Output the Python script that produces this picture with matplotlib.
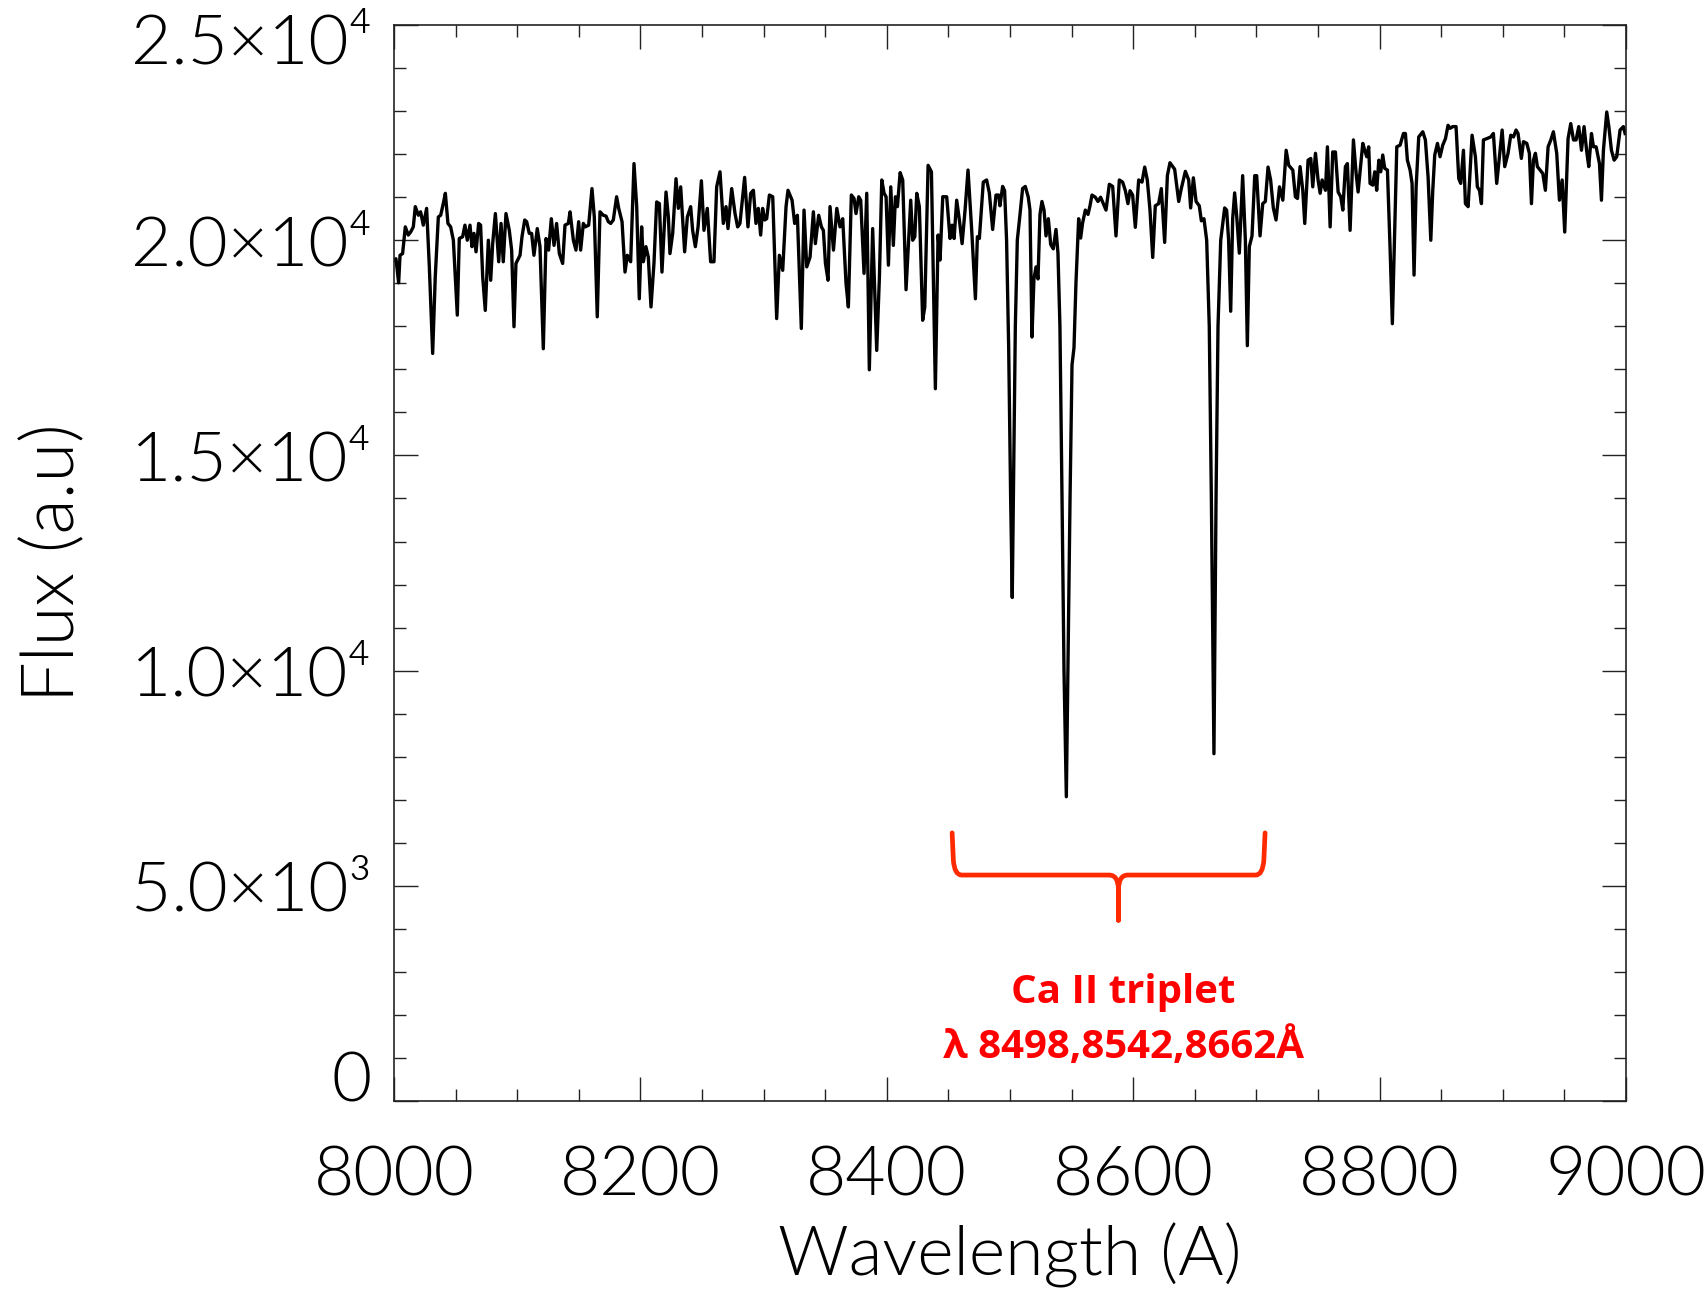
import matplotlib
matplotlib.use("Agg")
import matplotlib.pyplot as plt
from matplotlib.path import Path
from matplotlib.patches import PathPatch
from matplotlib.transforms import ScaledTranslation

plt.rcParams['font.family'] = ['Lato', 'DejaVu Sans']

# spectrum (wavelength in A, flux in a.u.)
wave = [
    8000.0, 8001.6, 8003.8, 8004.9, 8007.0, 8009.2, 8011.6, 8013.5, 8015.7, 8017.3,
    8019.8, 8021.6, 8023.8, 8026.5, 8028.7, 8031.4, 8033.5, 8036.0, 8037.9, 8040.0,
    8041.7, 8043.8, 8046.0, 8048.2, 8051.4, 8053.0, 8055.7, 8057.6, 8059.5, 8061.7,
    8063.3, 8064.9, 8066.6, 8068.7, 8070.3, 8072.0, 8074.1, 8076.6, 8078.5, 8080.1,
    8082.3, 8085.0, 8086.9, 8088.7, 8090.9, 8093.6, 8095.5, 8097.4, 8099.0, 8102.3,
    8103.9, 8106.1, 8107.7, 8109.8, 8111.7, 8113.6, 8116.3, 8118.5, 8121.2, 8123.4,
    8125.5, 8127.7, 8129.9, 8132.0, 8134.2, 8136.9, 8138.8, 8141.5, 8142.9, 8145.6,
    8147.7, 8149.9, 8151.5, 8153.7, 8155.3, 8158.0, 8160.7, 8162.6, 8165.0, 8167.2,
    8169.9, 8172.1, 8174.0, 8175.9, 8178.0, 8180.7, 8182.4, 8185.1, 8187.5, 8189.4,
    8192.1, 8194.8, 8197.0, 8199.1,
    8201.0, 8202.4, 8204.5, 8206.4, 8208.6, 8211.0, 8213.2, 8215.4, 8217.5, 8220.8,
    8222.7, 8224.0, 8226.2, 8228.9, 8230.8, 8232.7, 8235.9, 8238.1, 8240.8, 8242.4,
    8244.6, 8246.8, 8249.5, 8251.6, 8254.3, 8257.0, 8259.7, 8261.9, 8264.6, 8267.3,
    8269.5, 8271.1, 8274.1, 8276.8, 8278.9, 8280.8, 8284.6, 8287.3, 8289.5, 8291.7,
    8293.8, 8295.7, 8297.6, 8299.2, 8300.9, 8302.5, 8304.7, 8307.4, 8310.6, 8312.8,
    8315.5, 8318.2, 8319.8, 8323.1, 8325.2, 8327.4, 8330.6, 8332.8, 8335.0, 8337.7,
    8340.4, 8342.0, 8344.7, 8346.9, 8348.5, 8350.2, 8352.3, 8353.9, 8356.7, 8359.4,
    8362.0, 8364.2, 8366.9, 8368.8, 8371.2, 8373.4, 8375.0, 8377.2, 8378.8, 8381.5,
    8383.7, 8385.8, 8388.5, 8391.8, 8394.0,
    8395.9, 8397.8, 8399.4, 8401.3, 8403.2, 8405.3, 8407.0, 8408.6, 8410.8, 8412.9,
    8415.6, 8419.4, 8421.0, 8422.7, 8424.3, 8426.4, 8429.1, 8430.8, 8433.5, 8436.2,
    8439.4, 8441.6, 8443.2, 8445.4, 8448.6, 8451.3, 8453.0, 8454.6, 8456.7, 8458.9,
    8461.1, 8463.5, 8465.9, 8468.9, 8471.9, 8473.5, 8475.1,
    8478.3, 8481.0, 8483.2, 8485.9, 8488.6, 8490.8, 8491.8, 8494.0, 8495.6, 8497.2,
    8498.9, 8500.5, 8501.8, 8502.7, 8504.3, 8505.9, 8508.1, 8510.2, 8512.4, 8514.8,
    8516.2, 8517.8, 8519.4, 8521.1, 8522.7, 8524.3, 8525.9, 8527.6, 8529.2, 8531.1,
    8533.0, 8535.1, 8537.3, 8538.9, 8540.5, 8542.2, 8543.8, 8545.7, 8547.0, 8548.7,
    8550.3, 8551.9, 8553.5, 8555.7, 8557.3, 8558.9, 8561.1, 8563.3, 8564.9, 8566.5,
    8569.2, 8571.4, 8573.5, 8575.7, 8577.9, 8580.6, 8583.3, 8586.0, 8588.7, 8591.4,
    8593.6, 8595.7, 8597.4, 8599.5, 8601.7, 8604.4, 8607.1, 8609.3, 8611.4, 8613.6,
    8615.8, 8617.9, 8620.6, 8622.8, 8625.5, 8627.7, 8629.8, 8633.6, 8636.9, 8639.0,
    8642.3, 8645.0, 8646.6, 8648.8, 8651.0, 8653.6, 8655.3, 8657.4, 8659.6, 8661.7,
    8663.4, 8665.5, 8667.2, 8668.8, 8671.0, 8674.2, 8675.8, 8677.4, 8679.1, 8680.7,
    8682.3, 8684.0, 8686.1, 8688.8, 8691.0, 8692.6, 8694.2, 8696.4, 8698.6, 8700.2,
    8702.9, 8705.1, 8707.2, 8709.4, 8711.5, 8713.7,
    8715.9, 8718.7, 8721.4, 8724.1, 8726.2, 8729.5, 8731.6, 8733.3, 8735.4, 8737.6,
    8739.2, 8741.9, 8744.1, 8745.7, 8747.9, 8750.0, 8751.7, 8753.3, 8756.0, 8757.6,
    8759.8, 8761.9, 8764.1, 8766.3, 8768.4, 8770.1, 8772.2, 8773.8, 8776.0, 8778.7,
    8780.9, 8782.5,
    8786.3, 8787.9, 8789.5, 8791.1, 8792.2, 8794.4, 8796.0, 8797.6, 8799.3, 8800.9,
    8802.5, 8804.1, 8806.3, 8808.5, 8810.3, 8812.2, 8813.9, 8816.6, 8819.3, 8820.9,
    8822.5, 8824.7, 8826.3, 8827.9, 8829.6, 8831.7, 8835.0, 8837.1, 8839.3, 8841.5,
    8843.1, 8844.7, 8846.9, 8849.0, 8851.2, 8853.4, 8855.5, 8857.2, 8859.3, 8862.0,
    8864.2, 8865.8, 8868.0, 8869.6, 8871.8, 8875.0, 8877.7, 8879.3, 8881.0, 8882.6,
    8884.2, 8886.9, 8890.2, 8892.3, 8895.0, 8897.2, 8899.4, 8901.5, 8904.2, 8906.4,
    8908.6, 8910.7, 8912.3, 8915.0, 8916.7, 8919.4, 8921.5, 8923.2, 8924.8, 8926.4,
    8928.0, 8930.2, 8932.4, 8934.5, 8936.7, 8938.9, 8941.0, 8943.7, 8945.9, 8948.1,
    8950.2, 8952.9, 8955.1, 8957.3, 8959.4, 8961.6, 8963.8, 8965.9, 8968.1, 8969.7,
    8971.9, 8973.5, 8975.7, 8978.4, 8980.0, 8981.6, 8984.3, 8986.0, 8988.1, 8990.3,
    8992.4, 8995.1, 8997.8, 8999.2,
]
flux = [
    19540, 19570, 19010, 19650, 19690, 20310, 20120, 20190, 20310, 20780,
    20580, 20660, 20350, 20740, 19380, 17370, 19150, 20540, 20580, 20850,
    21090, 20390, 20310, 20000, 18260, 20040, 20080, 20350, 20000, 20350,
    19850, 20160, 19730, 20390, 20350, 19150, 18370, 20000, 19070, 19920,
    20620, 19500, 20390, 19500, 20620, 20230, 19770, 17990, 19460, 19650,
    20080, 20470, 20430, 20160, 20160, 19650, 20270, 19850, 17480, 20040,
    19770, 20500, 19880, 20390, 19690, 19460, 20350, 20390, 20660, 20000,
    19770, 20430, 19770, 20390, 20310, 20350, 21200, 20540, 18220, 20660,
    20580, 20560, 20430, 20390, 20470, 21010, 20740, 20430, 19260, 19650,
    19500, 21780, 20780, 18640,
    20310, 19500, 19850, 19610, 18450, 19460, 20890, 20850, 19260, 21120,
    20540, 19690, 20160, 21430, 20740, 21240, 19730, 20540, 20780, 20230,
    19850, 20310, 21380, 20230, 20740, 19500, 19500, 21240, 21590, 20390,
    20780, 20270, 21200, 20620, 20310, 20390, 21460, 20310, 21090, 21160,
    20390, 20740, 20120, 20740, 20470, 20500, 21050, 21010, 18180, 19650,
    19300, 20780, 21160, 20930, 20390, 20580, 17950, 20700, 19380, 19610,
    20660, 19920, 20580, 20310, 20230, 19460, 19070, 20780, 19770, 20740,
    20310, 20500, 18990, 18450, 21050, 20970, 20620, 21010, 20930, 19230,
    21090, 16990, 20270, 17440, 19150,
    21400, 21090, 21010, 19420, 21240, 19880, 21010, 20780, 21570, 21400,
    18850, 20930, 20000, 20080, 21090, 20780, 18140, 18450, 21740, 21590,
    16550, 20120, 19540, 21010, 21010, 20040, 20350, 20040, 20930, 20470,
    19920, 20700, 21630, 20230, 18640, 20080, 20040,
    21350, 21400, 21100, 20250, 21050, 21050, 20800, 21250, 21150, 20000,
    17500, 14000, 11700, 14000, 18000, 20000, 20600, 21200, 21250, 21000,
    20700, 17750, 19100, 19380, 19100, 20600, 20900, 20700, 20100, 20500,
    19900, 19800, 20250, 19700, 18000, 14000, 10000, 7070, 10000, 14000,
    17100, 17500, 19000, 20500, 20050, 20400, 20700, 20600, 20800, 21050,
    21000, 20900, 21000, 20850, 20700, 21300, 21250, 20100, 21400, 21350,
    21150, 20850, 21150, 21050, 20300, 21400, 21350, 21700, 21400, 20700,
    19600, 20800, 20850, 21200, 19950, 21500, 21800, 21650, 20900, 21200,
    21600, 21400, 20750, 21450, 20900, 20800, 20450, 20500, 20000, 18000,
    14000, 8070, 14000, 18000, 20000, 20750, 20700, 20000, 18350, 20500,
    21100, 20550, 19700, 21500, 20000, 17550, 19850, 20100, 21500, 21500,
    20100, 20850, 20900, 21700, 21400, 20750,
    20470, 21240, 20930, 22090, 21740, 21630, 21010, 20970, 21710, 21160,
    20390, 21860, 21900, 21240, 22020, 21400, 21090, 21400, 21160, 22170,
    20310, 22050, 22050, 21120, 21010, 20700, 21710, 21780, 20230, 22330,
    21550, 21120,
    22250, 22090, 21940, 22170, 21320, 21280, 21590, 21160, 21860, 21590,
    21980, 21670, 21630, 19770, 18060, 20230, 22170, 22210, 22480, 22480,
    21860, 21630, 21320, 19190, 21240, 22400, 22520, 22330, 21470, 20000,
    21160, 21980, 22250, 21940, 22210, 22360, 22670, 22600, 22640, 22640,
    21430, 21320, 22090, 20850, 20780, 22440, 21940, 21240, 21160, 20850,
    22330, 22360, 22400, 22480, 21320, 21940, 22560, 21710, 22020, 22440,
    22400, 22560, 22480, 21900, 22290, 22250, 22020, 20850, 21860, 22020,
    21710, 21630, 21550, 21160, 22170, 22330, 22520, 22020, 20930, 21400,
    20190, 22360, 22710, 22330, 22330, 22640, 22090, 22640, 22050, 21710,
    22480, 22170, 22170, 21780, 20930, 22090, 22980, 22640, 22090, 21860,
    21940, 22560, 22640, 22480,
]

x_major = [8000, 8200, 8400, 8600, 8800, 9000]
y_major = [0, 5000, 10000, 15000, 20000, 25000]
y_labels = ['0', '5.0×10³', '1.0×10⁴', '1.5×10⁴', '2.0×10⁴', '2.5×10⁴']

# Ca II triplet note: brace span (A), brace levels (flux), text
brace_left, brace_mid, brace_right = 8453, 8588, 8707
brace_top, brace_level, brace_tip = 6230, 5250, 4200
note_x = 8592
note_lines = ['Ca II triplet', 'λ 8498,8542,8662Å']
note_y = [2280, 1000]

fig = plt.figure(figsize=(17.07, 12.90), dpi=100)
ax = fig.add_axes([0.2308, 0.1465, 0.7218, 0.8341])

ax.plot(wave, flux, color='black', lw=2.4)

ax.set_xlim(8000, 9000)
ax.set_ylim(0, 25000)
ax.set_xticks(x_major)
ax.set_xticks(range(8000, 9001, 50), minor=True)
ax.set_yticks(y_major)
ax.set_yticks(range(0, 25001, 1000), minor=True)
ax.set_yticklabels(y_labels)

ax.tick_params(which='both', direction='in', top=True, right=True,
               width=1.0, color='#222222')
ax.tick_params(which='major', length=17)
ax.tick_params(which='minor', length=8.5)
ax.tick_params(axis='x', which='major', labelsize=50, pad=32)
ax.tick_params(axis='y', which='major', labelsize=50, pad=16)
for lab in ax.get_xticklabels() + ax.get_yticklabels():
    lab.set_fontweight(300)
    lab.set_color('black')
ylabs = ax.get_yticklabels()
ylabs[0].set_va('baseline')
ylabs[-1].set_va('top')
ylabs[-1].set_transform(ylabs[-1].get_transform()
                        + ScaledTranslation(0, 8 / 72, fig.dpi_scale_trans))

for sp in ax.spines.values():
    sp.set_linewidth(1.2)
    sp.set_color('#222222')

ax.set_xlabel('Wavelength (A)', fontsize=50, fontweight=300)
ax.set_ylabel('Flux (a.u)', fontsize=52, fontweight=300)
ax.xaxis.set_label_coords(0.5, -0.113)
ax.yaxis.set_label_coords(-0.249, 0.5)

# curly brace under the triplet
rx = (brace_right - brace_left) * 0.03
ry = (brace_top - brace_level) * 0.35
verts = []
codes = []
for end, s in [(brace_left, 1), (brace_right, -1)]:
    verts += [(end, brace_top), (end + s * 1, brace_level + ry),
              (end + s * 2, brace_level), (end + s * rx, brace_level),
              (brace_mid - s * rx, brace_level),
              (brace_mid, brace_level), (brace_mid, brace_level - ry),
              (brace_mid, brace_tip)]
    codes += [Path.MOVETO, Path.LINETO, Path.CURVE3, Path.CURVE3,
              Path.LINETO, Path.CURVE3, Path.CURVE3, Path.LINETO]
ax.add_patch(PathPatch(Path(verts, codes), fill=False, edgecolor='#ff2a00',
                       lw=3.4, capstyle='round', joinstyle='round'))

for txt, yy in zip(note_lines, note_y):
    ax.text(note_x, yy, txt, color='#ff0000', fontsize=29, fontweight='bold',
            ha='center', va='baseline', family=['Open Sans', 'DejaVu Sans'])

fig.savefig('out.png', dpi=100)
